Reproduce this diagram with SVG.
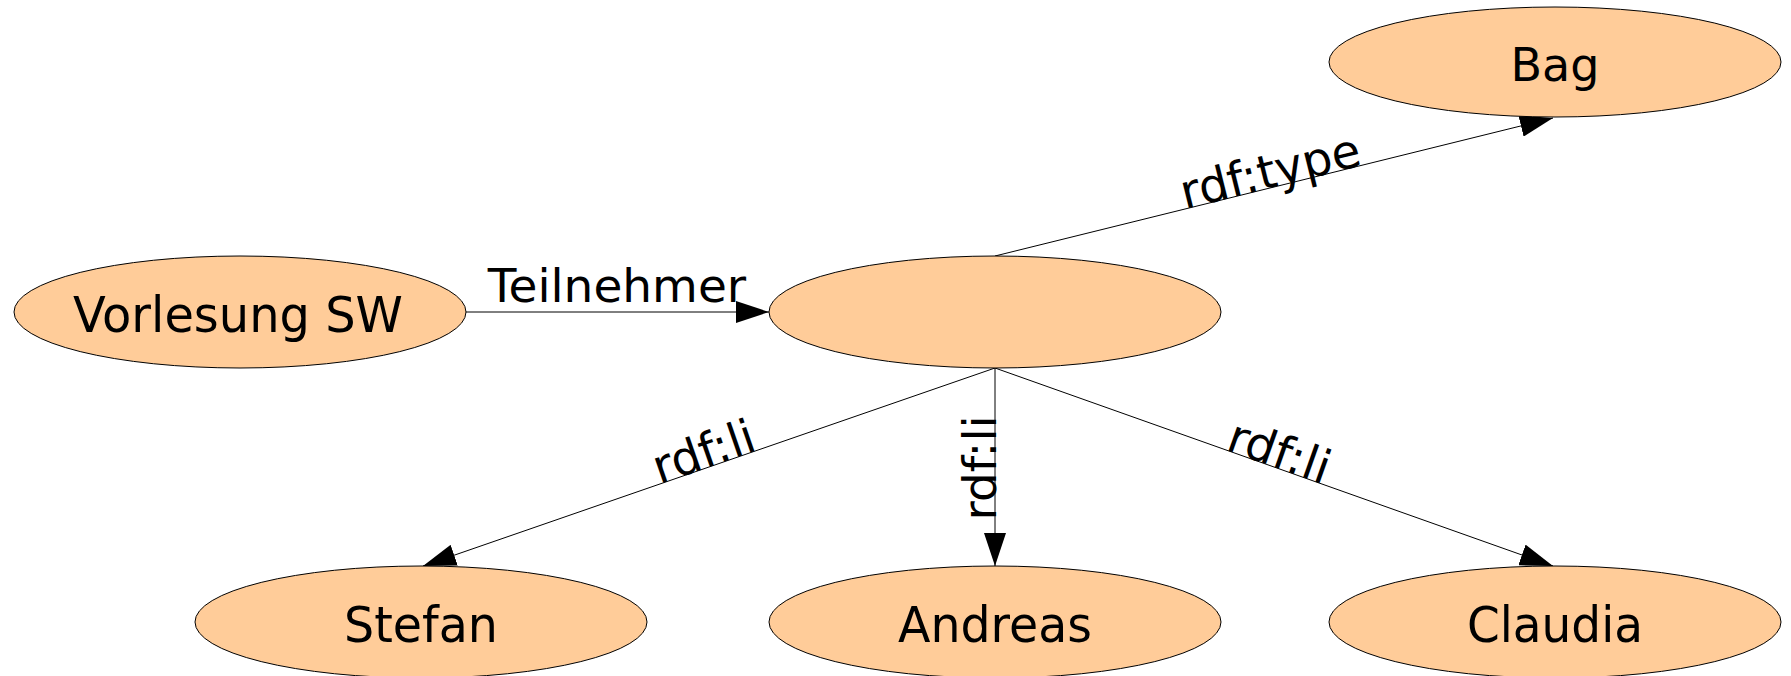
<svg xmlns="http://www.w3.org/2000/svg" width="1791" height="676" viewBox="0 0 1791 676">
<style>
.node ellipse{fill:#ffcc99;stroke:#000;stroke-width:1}
.node text{font-family:"DejaVu Sans",sans-serif;font-size:50px;fill:#000;text-anchor:middle}
.edges line{stroke:#000;stroke-width:1}
.lbl{font-family:"DejaVu Sans",sans-serif;font-size:47px;fill:#000;text-anchor:middle}
</style>
<defs>
<marker id="arr" viewBox="0 0 33 22" refX="33" refY="11" markerWidth="33" markerHeight="22" markerUnits="userSpaceOnUse" orient="auto">
<path d="M0,0 L33,11 L0,22 Z" fill="#000"/>
</marker>
</defs>
<rect width="1791" height="676" fill="#fff"/>
<g class="edges">
<line x1="466" y1="312" x2="769" y2="312" marker-end="url(#arr)"/>
<line x1="995" y1="256" x2="1553" y2="118" marker-end="url(#arr)"/>
<line x1="995" y1="368" x2="423" y2="566" marker-end="url(#arr)"/>
<line x1="995" y1="368" x2="995" y2="566" marker-end="url(#arr)"/>
<line x1="995" y1="368" x2="1553" y2="566" marker-end="url(#arr)"/>
<text class="lbl" x="617" y="302">Teilnehmer</text>
<text class="lbl" transform="translate(1274,187) rotate(-13.9)">rdf:type</text>
<text class="lbl" transform="translate(709,467) rotate(-19.1)">rdf:li</text>
<text class="lbl" transform="translate(996,468) rotate(-90)">rdf:li</text>
<text class="lbl" transform="translate(1274,467) rotate(19.5)">rdf:li</text>
</g>
<g class="node" id="vorlesung"><ellipse cx="240" cy="312" rx="226" ry="56"/><text x="238" y="332" textLength="330" lengthAdjust="spacingAndGlyphs">Vorlesung SW</text></g>
<g class="node" id="blank"><ellipse cx="995" cy="312" rx="226" ry="56"/></g>
<g class="node" id="bag"><ellipse cx="1555" cy="62" rx="226" ry="55"/><text x="1555" y="81" style="font-size:46px">Bag</text></g>
<g class="node" id="stefan"><ellipse cx="421" cy="622" rx="226" ry="56"/><text x="421" y="642" textLength="154" lengthAdjust="spacingAndGlyphs">Stefan</text></g>
<g class="node" id="andreas"><ellipse cx="995" cy="622" rx="226" ry="56"/><text x="995" y="642" textLength="194" lengthAdjust="spacingAndGlyphs">Andreas</text></g>
<g class="node" id="claudia"><ellipse cx="1555" cy="622" rx="226" ry="56"/><text x="1555" y="642" textLength="176" lengthAdjust="spacingAndGlyphs">Claudia</text></g>
</svg>
